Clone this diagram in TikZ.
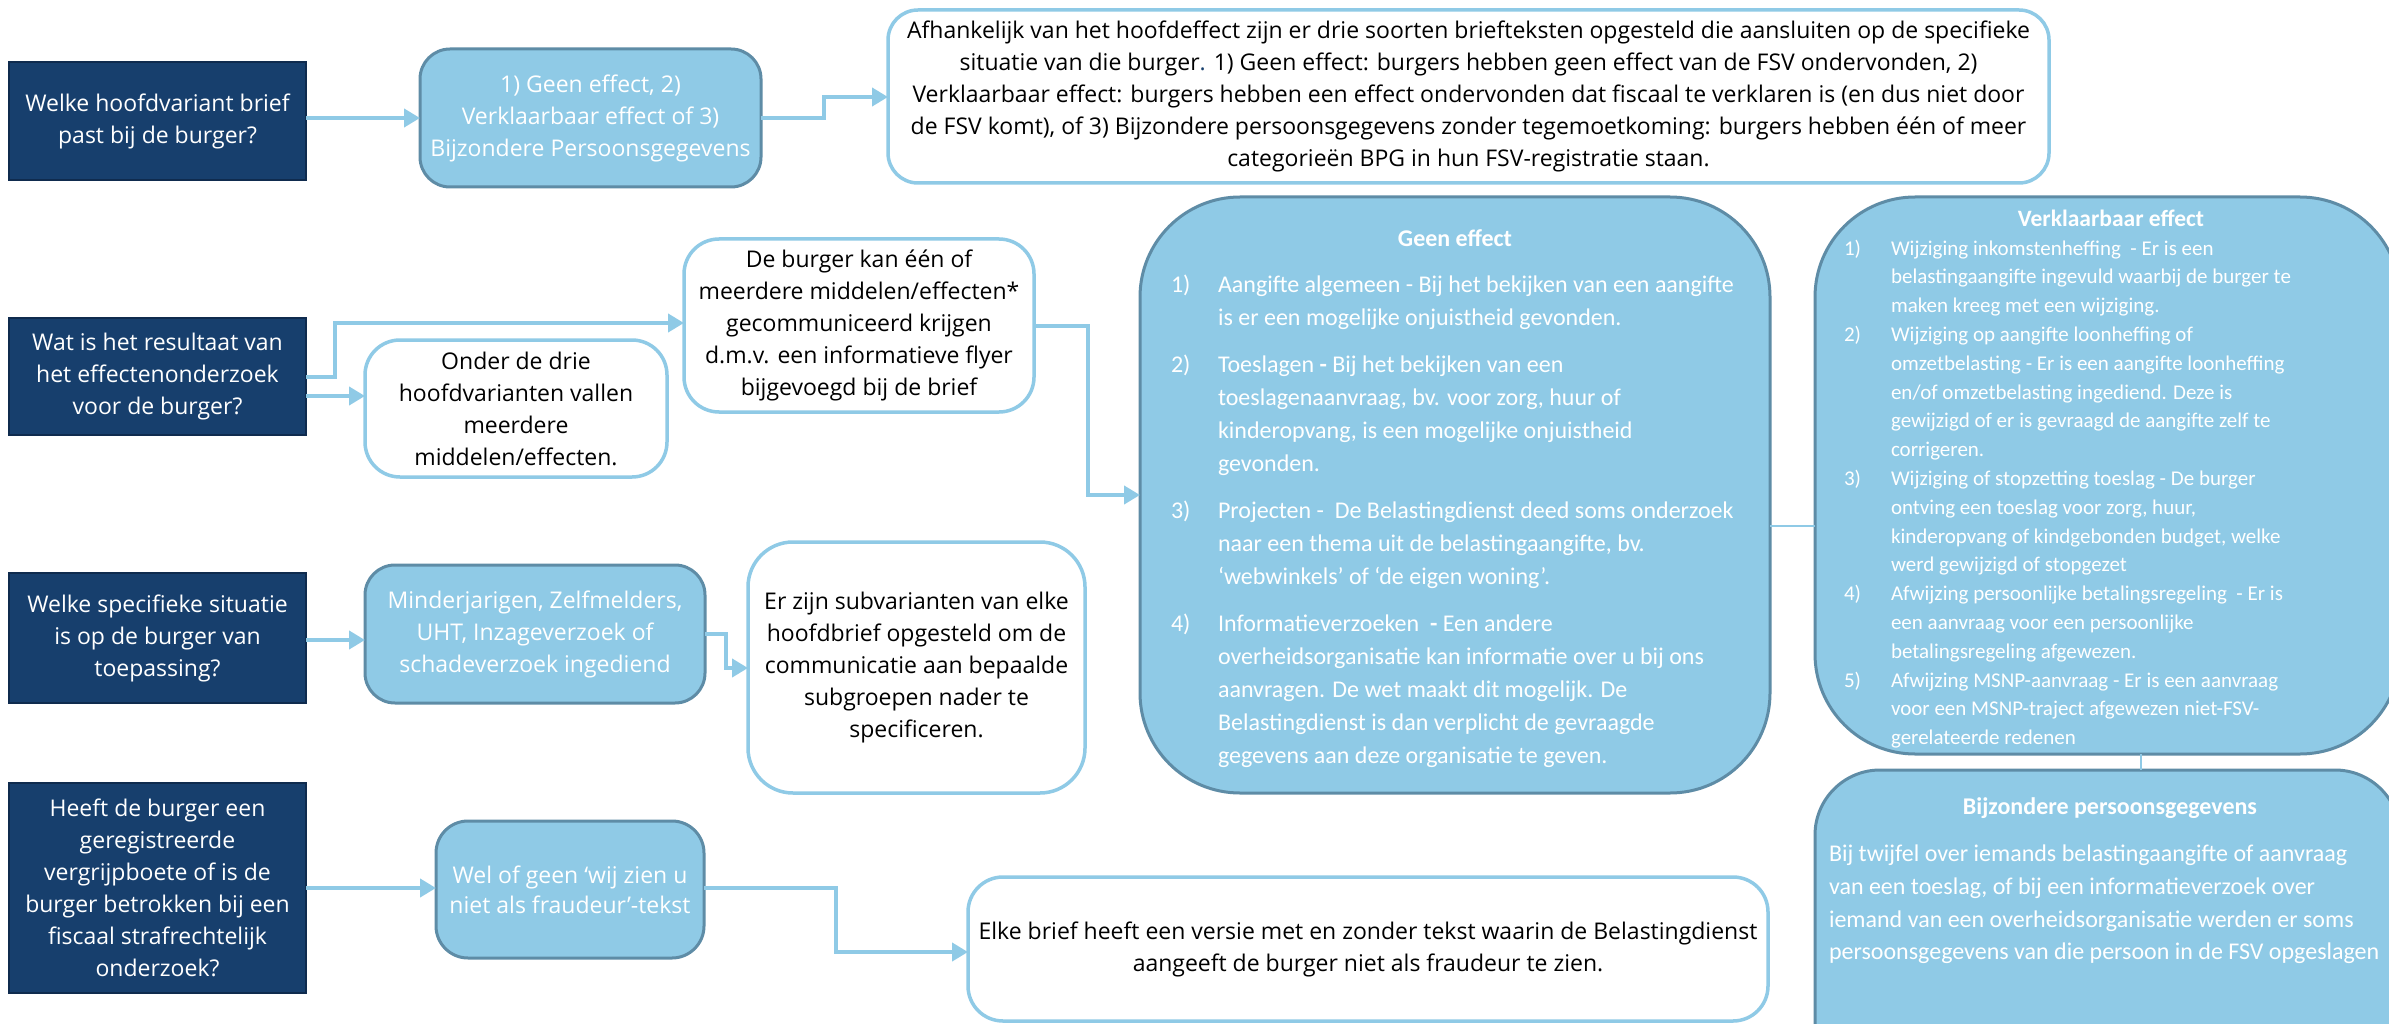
\documentclass[tikz,border=0pt]{standalone}
\usepackage{fontspec}
\setmainfont{Open Sans}
\newfontfamily\rofont{Carlito}
\usetikzlibrary{arrows.meta,calc}
\definecolor{navy}{HTML}{173F6D}
\definecolor{navyb}{HTML}{0F2B4E}
\definecolor{lblue}{HTML}{8FCAE6}
\definecolor{lbb}{HTML}{5E8CA6}
\definecolor{connc}{HTML}{8FCAE6}
\begin{document}
\begin{tikzpicture}[x=1pt,y=-1pt,
  every node/.style={inner sep=0pt, outer sep=0pt},
  osf/.style={font=\fontsize{23}{32}\selectfont},
  qbox/.style={osf, draw=navyb, fill=navy, line width=2pt, text=white, align=center},
  lbox/.style={osf, draw=lbb, fill=lblue, line width=3pt, text=white, align=center, rounded corners=#1},
  wbox/.style={osf, draw=lblue, fill=white, line width=3.5pt, text=black, align=center, rounded corners=#1},
  bigbox/.style={draw=lbb, fill=lblue, line width=3pt, rounded corners=#1},
  ttl/.style={text=white, font=\rofont\bfseries\fontsize{#1}{#1}\selectfont},
  arr/.style={draw=connc, line width=4pt, -{Triangle[length=16pt,width=18pt]}},
  link/.style={draw=connc, line width=1.5pt}
]
\useasboundingbox (0,0) rectangle (2389,1024);
\fill[white] (0,0) rectangle (2389,1024);
\clip (0,0) rectangle (2389,1024);

% row 1
\node[qbox, minimum width=297pt, minimum height=118pt] (Q1) at (157.5,121) {Welke hoofdvariant brief\\past bij de burger?};
\node[lbox=30pt, minimum width=341pt, minimum height=138pt] (B1) at (590.5,118) {1) Geen effect, 2)\\Verklaarbaar effect of 3)\\Bijzondere Persoonsgegevens};
\node[wbox=30pt, minimum width=1161pt, minimum height=173pt] (T1) at (1468.5,96.5) {Afhankelijk van het hoofdeffect zijn er drie soorten briefteksten opgesteld die aansluiten op de specifieke\\situatie van die burger{\color{navy}.} 1) Geen effect: burgers hebben geen effect van de FSV ondervonden, 2)\\Verklaarbaar effect: burgers hebben een effect ondervonden dat fiscaal te verklaren is (en dus niet door\\de FSV komt), of 3) Bijzondere persoonsgegevens zonder tegemoetkoming: burgers hebben één of meer\\categorieën BPG in hun FSV-registratie staan.};

% row 2
\node[qbox, minimum width=297pt, minimum height=117pt] (Q2) at (157.5,376.5) {Wat is het resultaat van\\het effectenonderzoek\\voor de burger?};
\node[wbox=35pt, minimum width=302pt, minimum height=137pt] (B2a) at (516,408.5) {Onder de drie\\hoofdvarianten vallen\\meerdere\\middelen/effecten.};
\node[wbox=35pt, minimum width=350pt, minimum height=173pt] (B2b) at (859,325.5) {De burger kan één of\\meerdere middelen/effecten*\\gecommuniceerd krijgen\\d.m.v. een informatieve flyer\\bijgevoegd bij de brief};

% big boxes
\node[bigbox=100pt, minimum width=630pt, minimum height=596pt] (GE) at (1455,495) {};
\node[ttl=24] (GEt) at (1455,238) {Geen effect};
\node[anchor=north west, text=white, font=\rofont\fontsize{24}{33}\selectfont] (GEl) at (1171,269) {%
\begin{tabular}{@{}p{47pt}@{}l@{}}
1) & Aangifte algemeen - Bij het bekijken van een aangifte\\
 & is er een mogelijke onjuistheid gevonden.\\[14pt]
2) & Toeslagen {\bfseries -} Bij het bekijken van een\\
 & toeslagenaanvraag, bv. voor zorg, huur of\\
 & kinderopvang, is een mogelijke onjuistheid\\
 & gevonden.\\[14pt]
3) & Projecten -\ \ De Belastingdienst deed soms onderzoek\\
 & naar een thema uit de belastingaangifte, bv.\\
 & ‘webwinkels’ of ‘de eigen woning’.\\[14pt]
4) & Informatieverzoeken\ \ {\bfseries -} Een andere\\
 & overheidsorganisatie kan informatie over u bij ons\\
 & aanvragen. De wet maakt dit mogelijk. De\\
 & Belastingdienst is dan verplicht de gevraagde\\
 & gegevens aan deze organisatie te geven.
\end{tabular}};

\node[bigbox=100pt, minimum width=585pt, minimum height=557pt] (VE) at (2107.5,475.5) {};
\node[ttl=23.5] (VEt) at (2111,218) {Verklaarbaar effect};
\node[anchor=north west, text=white, font=\rofont\fontsize{21}{28.8}\selectfont] (VEl) at (1844,235) {%
\begin{tabular}{@{}p{47pt}@{}l@{}}
1) & Wijziging inkomstenheffing\ \ - Er is een\\
 & belastingaangifte ingevuld waarbij de burger te\\
 & maken kreeg met een wijziging.\\
2) & Wijziging op aangifte loonheffing of\\
 & omzetbelasting - Er is een aangifte loonheffing\\
 & en/of omzetbelasting ingediend. Deze is\\
 & gewijzigd of er is gevraagd de aangifte zelf te\\
 & corrigeren.\\
3) & Wijziging of stopzetting toeslag - De burger\\
 & ontving een toeslag voor zorg, huur,\\
 & kinderopvang of kindgebonden budget, welke\\
 & werd gewijzigd of stopgezet\\
4) & Afwijzing persoonlijke betalingsregeling\ \ - Er is\\
 & een aanvraag voor een persoonlijke\\
 & betalingsregeling afgewezen.\\
5) & Afwijzing MSNP-aanvraag - Er is een aanvraag\\
 & voor een MSNP-traject afgewezen niet-FSV-\\
 & gerelateerde redenen
\end{tabular}};

\node[bigbox=65pt, minimum width=585pt, minimum height=330pt] (BPG) at (2107.5,935) {};
\node[ttl=24] (BPGt) at (2110,808) {Bijzondere persoonsgegevens};
\node[anchor=north west, text=white, font=\rofont\fontsize{24}{32.7}\selectfont] (BPGl) at (1829,839) {%
\begin{tabular}{@{}l@{}}
Bij twijfel over iemands belastingaangifte of aanvraag\\
van een toeslag, of bij een informatieverzoek over\\
iemand van een overheidsorganisatie werden er soms\\
persoonsgegevens van die persoon in de FSV opgeslagen
\end{tabular}};

% row 3
\node[qbox, minimum width=297pt, minimum height=130pt] (Q3) at (157.5,638) {Welke specifieke situatie\\is op de burger van\\toepassing?};
\node[lbox=30pt, minimum width=340pt, minimum height=138pt] (B3a) at (535,634) {Minderjarigen, Zelfmelders,\\UHT, Inzageverzoek of\\schadeverzoek ingediend};
\node[wbox=45pt, minimum width=337pt, minimum height=251pt] (B3b) at (916.5,667.5) {Er zijn subvarianten van elke\\hoofdbrief opgesteld om de\\communicatie aan bepaalde\\subgroepen nader te\\specificeren.};

% row 4
\node[qbox, minimum width=297pt, minimum height=210pt] (Q4) at (157.5,888) {Heeft de burger een\\geregistreerde\\vergrijpboete of is de\\burger betrokken bij een\\fiscaal strafrechtelijk\\onderzoek?};
\node[lbox=32pt, minimum width=268pt, minimum height=137pt, font=\fontsize{23}{30}\selectfont] (B4a) at (570,889.5) {Wel of geen ‘wij zien u\\niet als fraudeur’-tekst};
\node[wbox=35pt, minimum width=800pt, minimum height=144pt] (B4b) at (1368,949) {Elke brief heeft een versie met en zonder tekst waarin de Belastingdienst\\aangeeft de burger niet als fraudeur te zien.};

% helper coordinates
\coordinate (k1) at (824,97);
\coordinate (k2) at (335,323);
\coordinate (k3) at (0,396);
\coordinate (k4) at (1088,495);
\coordinate (k5) at (0,526);
\coordinate (k6) at (2141,0);
\coordinate (k7) at (0,640);
\coordinate (k8) at (726,668);
\coordinate (k9) at (836,952);
\coordinate (k10) at (0,888);

% connectors
\draw[arr] (Q1.east |- B1.west) -- (B1.west);
\draw[arr] (B1.east) -| (k1) -- (k1 -| T1.west);
\draw[arr] (Q2.east) -| (k2) -- (k2 -| B2b.west);
\draw[arr] (Q2.east |- k3) -- (B2a.west |- k3);
\draw[arr] (B2b.east) -| (k4) -- (k4 -| GE.west);
\draw[link] (GE.east |- k5) -- (VE.west |- k5);
\draw[link] (VE.south -| k6) -- (BPG.north -| k6);
\draw[arr] (Q3.east |- k7) -- (B3a.west |- k7);
\draw[arr] (B3a.east) -| (k8) -- (k8 -| B3b.west);
\draw[arr] (Q4.east |- k10) -- (B4a.west |- k10);
\draw[arr] (B4a.east |- k10) -| (k9) -- (k9 -| B4b.west);
\end{tikzpicture}
\end{document}
